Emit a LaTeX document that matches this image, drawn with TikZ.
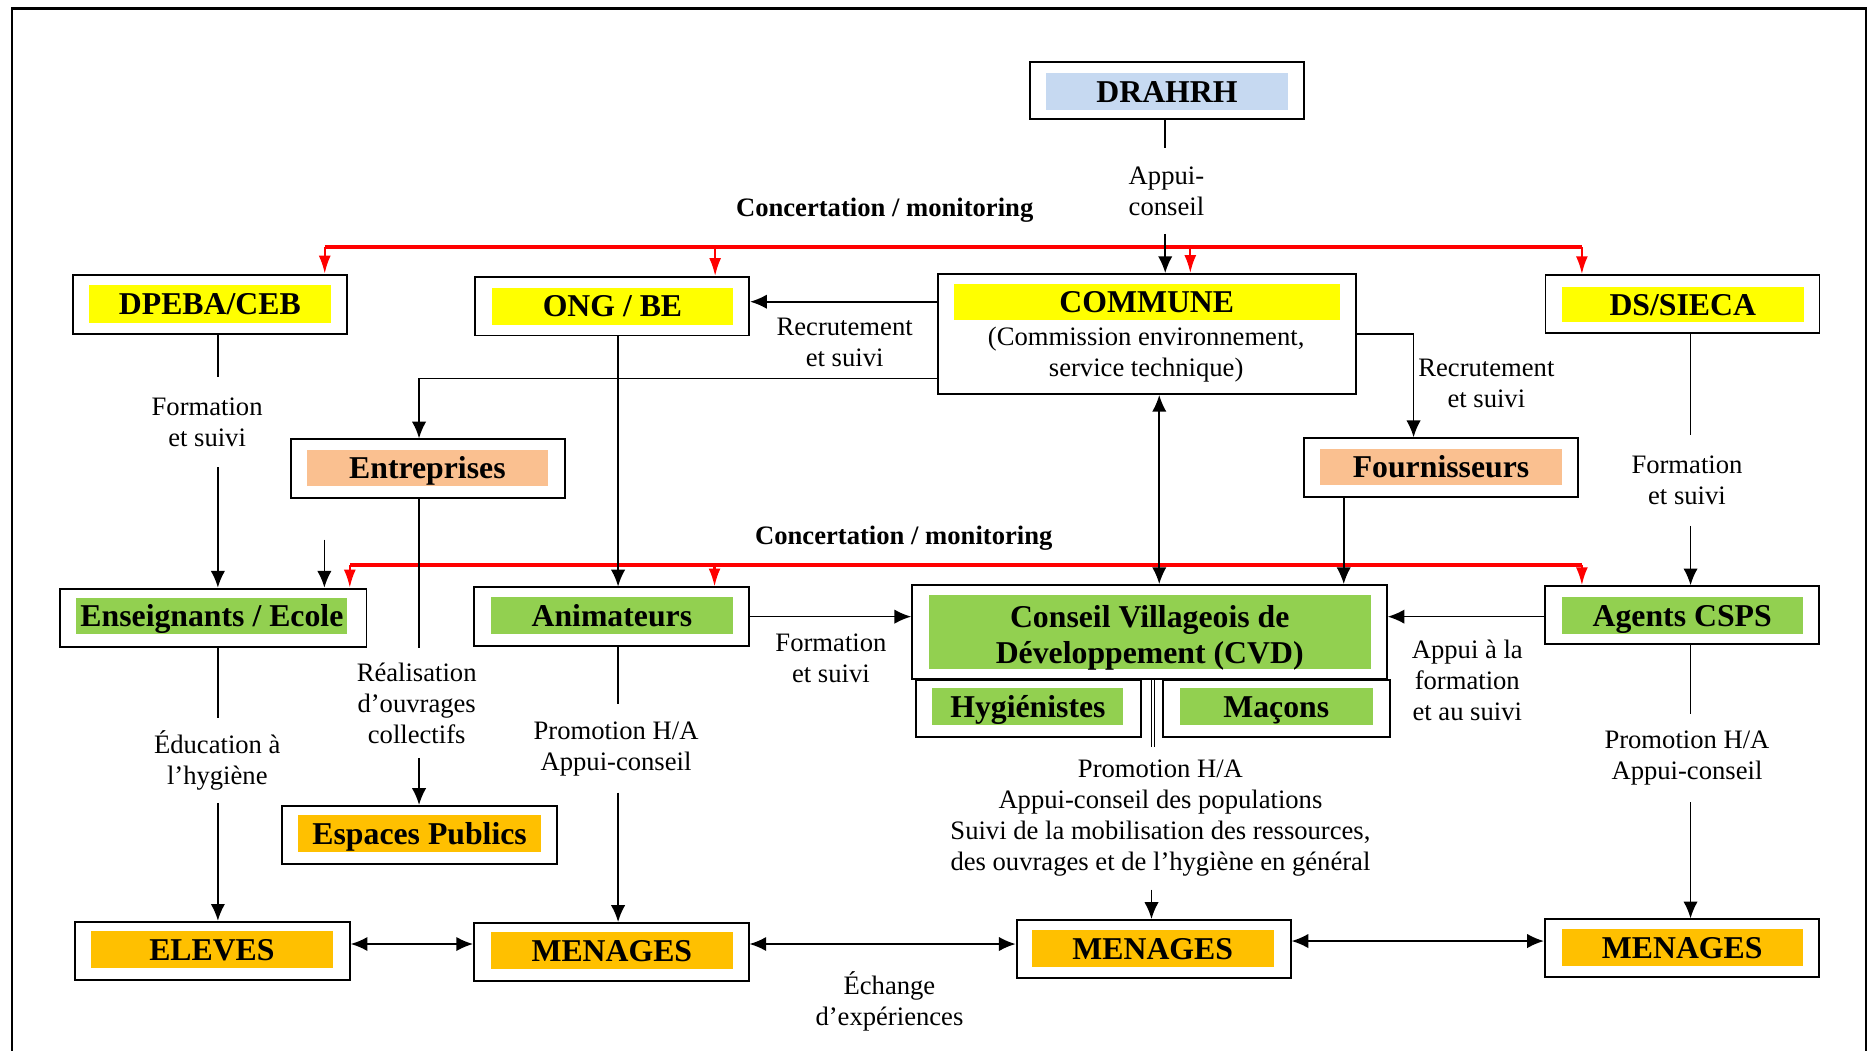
\documentclass[tikz,border=0pt]{standalone}
\usepackage{fontspec}
\setmainfont{Liberation Serif}
\usetikzlibrary{arrows.meta,fit,calc}
\definecolor{cyel}{HTML}{FFFF00}
\definecolor{cblue}{HTML}{C6D9F1}
\definecolor{cpeach}{HTML}{FAC090}
\definecolor{cgreen}{HTML}{92D050}
\definecolor{corange}{HTML}{FFC000}
\definecolor{cred}{HTML}{FF0000}
\begin{document}
\begin{tikzpicture}[x=0.5pt,y=-0.5pt,
 obox/.style={draw=black,line width=0.8pt,inner sep=0pt,fill=white},
 ibox/.style={inner sep=0pt},
 btext/.style={inner sep=0pt,text height=11.85pt,text depth=2.9pt,font=\fontsize{13.3}{15}\selectfont\bfseries},
 b2text/.style={inner sep=0pt,align=center,font=\fontsize{13.3}{15}\selectfont\bfseries},
 lab/.style={align=center,font=\fontsize{11.15}{13}\selectfont,inner xsep=0pt},
 blab/.style={font=\fontsize{11.15}{13}\selectfont\bfseries,inner sep=0pt},
 conn/.style={line width=0.7pt},
 arr/.style={conn,-{Latex[length=7pt,width=6pt]}},
 darr/.style={conn,{Latex[length=7pt,width=6pt]}-{Latex[length=7pt,width=6pt]}},
 rline/.style={cred,line width=1.5pt},
 rarr/.style={cred,line width=0.9pt,-{Latex[length=7.5pt,width=5pt]}},
]
\useasboundingbox (0,0) rectangle (1568,880);
% frame
\draw[line width=0.8pt] (10,880) -- (10,7);
\draw[line width=0.8pt] (1563,7) -- (1563,880);
\draw[line width=1.5pt] (9.5,7) -- (1563.5,7);

% column / row helper coordinates
\coordinate (c183) at (182.5,0);
\coordinate (c351) at (351,0);
\coordinate (c518) at (517.7,0);
\coordinate (c965) at (964.5,0);
\coordinate (c967) at (967,0);
\coordinate (c971) at (971,0);
\coordinate (c976) at (976,0);
\coordinate (c1125) at (1125.5,0);
\coordinate (c1184) at (1184,0);
\coordinate (c1416) at (1416,0);
\coordinate (r253) at (0,252.7);
\coordinate (r280) at (0,279.8);
\coordinate (r317) at (0,317);
\coordinate (r516) at (0,516.5);
\coordinate (r791) at (0,790.7);
\coordinate (r788) at (0,788.2);
\coordinate (busAL) at (272,207);
\coordinate (busAR) at (1325,207);
\coordinate (busAb) at (599,207);
\coordinate (busAc) at (997,207);
\coordinate (busBL) at (293,473);
\coordinate (busBR) at (1325,473);
\coordinate (busBb) at (598.5,473);
\coordinate (sa) at (271.7,452);

% boxes
\node[obox, fit={(863,52) (1092,100)}] (drahrh) {};
\node[ibox, fill=cblue, fit={(876,61) (1079,92)}] (drahrhi) {};
\node[btext] at (drahrhi.center) {DRAHRH};

\node[obox, fit={(61,230) (291,279.5)}] (dpeba) {};
\node[ibox, fill=cyel, fit={(74.5,239) (277,270.5)}] (dpebai) {};
\node[btext] at (dpebai.center) {DPEBA/CEB};

\node[obox, fit={(398,232) (627.5,281)}] (ong) {};
\node[ibox, fill=cyel, fit={(412,241) (614,272)}] (ongi) {};
\node[btext] at (ongi.center) {ONG / BE};

\node[obox, fit={(786,229.5) (1135.5,330)}] (commune) {};
\node[ibox, fill=cyel, fit={(799,238) (1122,268)}] (communei) {};
\node[btext] at (communei.center) {COMMUNE};
\node[lab, inner ysep=0pt] (communesub) at (960,297) {(Commission environnement,\\service technique)};

\node[obox, fit={(1294.5,230.5) (1524,279)}] (ds) {};
\node[ibox, fill=cyel, fit={(1308,240) (1511,270)}] (dsi) {};
\node[btext] at (dsi.center) {DS/SIECA};

\node[obox, fit={(243.5,368) (473.5,417)}] (entr) {};
\node[ibox, fill=cpeach, fit={(257,377) (459,407)}] (entri) {};
\node[btext] at (entri.center) {Entreprises};

\node[obox, fit={(1092,367) (1322,416)}] (fourn) {};
\node[ibox, fill=cpeach, fit={(1106,376) (1308,406)}] (fourni) {};
\node[btext] at (fourni.center) {Fournisseurs};

\node[obox, fit={(50,493) (307,542)}] (ens) {};
\node[ibox, fill=cgreen, fit={(64,501) (291,531)}] (ensi) {};
\node[btext] at (ensi.center) {Enseignants / Ecole};

\node[obox, fit={(397,492) (627,541)}] (anim) {};
\node[ibox, fill=cgreen, fit={(411,500) (614,531)}] (animi) {};
\node[btext] at (animi.center) {Animateurs};

\node[obox, fit={(764,490) (1161.5,569)}] (cvd) {};
\node[ibox, fill=cgreen, fit={(778,498) (1148,560.5)}] (cvdi) {};
\node[b2text, yshift=-2.5pt] at (cvdi.center) {Conseil Villageois de\\Développement (CVD)};

\node[obox, fit={(767,569.5) (956,617.5)}] (hyg) {};
\node[ibox, fill=cgreen, fit={(781,576.5) (941,607)}] (hygi) {};
\node[btext] at (hygi.center) {Hygiénistes};

\node[obox, fit={(974.5,569.5) (1164,617.5)}] (macons) {};
\node[ibox, fill=cgreen, fit={(988,576.5) (1150,607)}] (maconsi) {};
\node[btext] at (maconsi.center) {Maçons};

\node[obox, fit={(1294,491) (1523.5,539.5)}] (agents) {};
\node[ibox, fill=cgreen, fit={(1308,500) (1510,531)}] (agentsi) {};
\node[btext] at (agentsi.center) {Agents CSPS};

\node[obox, fit={(236.5,675) (466.5,724)}] (espaces) {};
\node[ibox, fill=corange, fit={(250,683) (453,714)}] (espacesi) {};
\node[btext] at (espacesi.center) {Espaces Publics};

\node[obox, fit={(63,772) (293,821)}] (eleves) {};
\node[ibox, fill=corange, fit={(76,780) (279,811)}] (elevesi) {};
\node[btext] at (elevesi.center) {ELEVES};

\node[obox, fit={(397,773) (627,821.5)}] (men1) {};
\node[ibox, fill=corange, fit={(411,781) (614,812)}] (men1i) {};
\node[btext] at (men1i.center) {MENAGES};

\node[obox, fit={(851.5,770.5) (1081,819.5)}] (men2) {};
\node[ibox, fill=corange, fit={(864,779) (1067,810)}] (men2i) {};
\node[btext] at (men2i.center) {MENAGES};

\node[obox, fit={(1294,770) (1523.5,818.5)}] (men3) {};
\node[ibox, fill=corange, fit={(1308,778) (1510,809)}] (men3i) {};
\node[btext] at (men3i.center) {MENAGES};

% labels
\node[lab, inner ysep=7.5pt] (appui) at (977,160) {Appui-\\conseil};
\node[blab] (conc1) at (741,176) {Concertation / monitoring};
\node[blab] (conc2) at (757,451) {Concertation / monitoring};
\node[lab] (recr1) at (707.5,287) {Recrutement\\et suivi};
\node[lab] (recr2) at (1245,321) {Recrutement\\et suivi};
\node[lab, inner ysep=8.5pt] (form1) at (173.5,353.5) {Formation\\et suivi};
\node[lab, inner ysep=8.5pt] (form2) at (1413,402.5) {Formation\\et suivi};
\node[lab] (form3) at (696,551) {Formation\\et suivi};
\node[lab, inner ysep=5.8pt] (real) at (349,589) {Réalisation\\d’ouvrages\\collectifs};
\node[lab, inner ysep=5pt] (educ) at (182,637) {Éducation à\\l’hygiène};
\node[lab, inner ysep=6.9pt] (promo1) at (516,627) {Promotion H/A\\Appui-conseil};
\node[lab, inner ysep=6.9pt] (promo3) at (1413,635.2) {Promotion H/A\\Appui-conseil};
\node[lab] (appuif) at (1229,570) {Appui à la\\formation\\et au suivi};
\node[lab, inner ysep=5.2pt] (promo2) at (972,685.5) {Promotion H/A\\Appui-conseil des populations\\Suivi de la mobilisation des ressources,\\des ouvrages et de l’hygiène en général};
\node[lab] (echange) at (745,839) {Échange\\d’expériences};

% red concertation buses
\draw[rline] (busAL) -- (busAR);
\draw[rarr] (busAL) -- (dpeba.north -| busAL);
\draw[rarr] (busAb) -- (ong.north -| busAb);
\draw[rarr] (busAc) -- (commune.north -| busAc);
\draw[rarr] (busAR) -- (ds.north -| busAR);
\draw[rline] (busBL) -- (busBR);
\draw[rarr] (busBL) -- (ens.north -| busBL);
\draw[rarr] (busBb) -- (anim.north -| busBb);
\draw[rarr] (busBR) -- (agents.north -| busBR);

% black connectors
\draw[conn] (drahrh.south -| c976) -- (appui.north -| c976);
\draw[arr] (appui.south -| c976) -- (commune.north -| c976);

\draw[arr] (commune.west |- r253) -- (ong.east |- r253);
\draw[arr] (commune.west |- r317) -| (entr.north -| c351);
\draw[arr] (commune.east |- r280) -| (fourn.north -| c1184);
\draw[darr] (commune.south -| c971) -- (cvd.north -| c971);
\draw[arr] (fourn.south -| c1125) -- (cvd.north -| c1125);
\draw[arr] (ong.south -| c518) -- (anim.north -| c518);

\draw[conn] (dpeba.south -| c183) -- (form1.north -| c183);
\draw[arr] (form1.south -| c183) -- (ens.north -| c183);
\draw[arr] (sa) -- (ens.north -| sa);

\draw[conn] (ds.south -| c1416) -- (form2.north -| c1416);
\draw[arr] (form2.south -| c1416) -- (agents.north -| c1416);

\draw[conn] (entr.south -| c351) -- (real.north -| c351);
\draw[arr] (real.south -| c351) -- (espaces.north -| c351);

\draw[arr] (anim.east |- r516) -- (cvd.west |- r516);
\draw[arr] (agents.west |- r516) -- (cvd.east |- r516);

\draw[conn] (ens.south -| c183) -- (educ.north -| c183);
\draw[arr] (educ.south -| c183) -- (eleves.north -| c183);

\draw[conn] (anim.south -| c518) -- (promo1.north -| c518);
\draw[arr] (promo1.south -| c518) -- (men1.north -| c518);

\draw[conn] (cvd.south -| c965) -- (promo2.north -| c965);
\draw[conn, line width=0.5pt] (cvd.south -| c967) -- (promo2.north -| c967);
\draw[arr] (promo2.south -| c965) -- (men2.north -| c965);

\draw[conn] (agents.south -| c1416) -- (promo3.north -| c1416);
\draw[arr] (promo3.south -| c1416) -- (men3.north -| c1416);

\draw[darr] (eleves.east |- r791) -- (men1.west |- r791);
\draw[darr] (men1.east |- r791) -- (men2.west |- r791);
\draw[darr] (men2.east |- r788) -- (men3.west |- r788);
\end{tikzpicture}
\end{document}
